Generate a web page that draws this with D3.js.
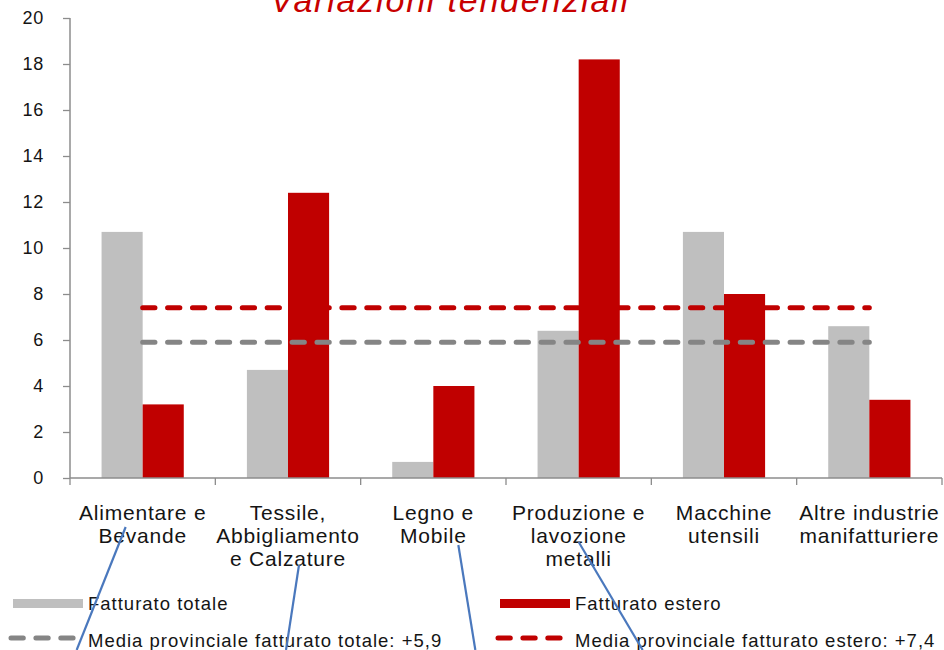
<html>
    <head>
        <meta charset="utf-8">
        <title>Variazioni tendenziali</title>
        <script src="https://cdnjs.cloudflare.com/ajax/libs/d3/7.8.5/d3.min.js"></script>
        <style>
            body { margin: 0; background: #fff; }
            svg text { font-family: "Liberation Sans", Arial, sans-serif; fill: #141414; }
            .tick line, .domain { stroke: #8c8c8c; }
        </style>
    </head>
    <body>
        <div id="main"></div>
        <script>
            // data
            var categories = [
                ["Alimentare e", "Bevande"],
                ["Tessile,", "Abbigliamento", "e Calzature"],
                ["Legno e", "Mobile"],
                ["Produzione e", "lavozione", "metalli"],
                ["Macchine", "utensili"],
                ["Altre industrie", "manifatturiere"]
            ];
            var fatturatoTotale = [10.7, 4.7, 0.7, 6.4, 10.7, 6.6];
            var fatturatoEstero = [3.2, 12.4, 4.0, 18.2, 8.0, 3.4];
            var mediaTotale = 5.9;
            var mediaEstero = 7.4;
            var yTicks = [0, 2, 4, 6, 8, 10, 12, 14, 16, 18, 20];
            var seriesNames = ["Fatturato totale", "Fatturato estero"];
            var lineNames = ["Media provinciale fatturato totale: +5,9", "Media provinciale fatturato estero: +7,4"];
            var title = "Variazioni tendenziali";

            var width = 944, height = 650;
            var grey = "#bfbfbf", red = "#c00000", greyLine = "#858585";
            var dash = "12.3 12.6";

            var keys = categories.map(function(c, i) { return "c" + i; });

            var svg = d3.select("#main").append("svg")
                .attr("width", width)
                .attr("height", height);

            var x = d3.scaleBand().domain(keys).range([70, 942]);
            var sub = d3.scaleBand().domain([0, 1]).range([0, x.bandwidth()]).paddingOuter(0.768);
            var y = d3.scaleLinear().domain([0, 20]).range([478, 18]);

            // title (cut off at top, as in the original)
            svg.append("text")
                .attr("x", 450)
                .attr("y", 12)
                .attr("text-anchor", "middle")
                .style("font-size", "34px")
                .style("font-style", "italic")
                .style("letter-spacing", "1.8px")
                .style("fill", "#c80000")
                .text(title);

            // y axis
            var yAxis = svg.append("g")
                .attr("transform", "translate(70,0)")
                .call(d3.axisLeft(y).tickValues(yTicks).tickSize(7).tickPadding(19));
            yAxis.selectAll("text")
                .style("font-size", "18px")
                .style("letter-spacing", "0.8px")
                .attr("font-family", null);
            yAxis.select(".domain").attr("d", "M0," + y(20) + "V" + y(0)).style("stroke-width", 1.5);
            yAxis.selectAll(".tick line").style("stroke-width", 1.3);

            // bars
            var rows = keys.map(function(k, i) {
                return { key: k, values: [fatturatoTotale[i], fatturatoEstero[i]] };
            });
            var group = svg.selectAll("g.cat")
                .data(rows)
                .enter().append("g")
                .attr("class", "cat")
                .attr("transform", function(d) { return "translate(" + x(d.key) + ",0)"; });

            group.selectAll("rect")
                .data(function(d) { return d.values; })
                .enter().append("rect")
                .attr("x", function(d, i) { return sub(i); })
                .attr("width", sub.bandwidth())
                .attr("y", function(d) { return y(d); })
                .attr("height", function(d) { return y(0) - y(d); })
                .attr("fill", function(d, i) { return i === 0 ? grey : red; });

            // x axis
            svg.append("line")
                .attr("x1", x.range()[0]).attr("x2", x.range()[1])
                .attr("y1", y(0)).attr("y2", y(0))
                .style("stroke", "#8c8c8c").style("stroke-width", 1.5);
            var edges = keys.map(function(k) { return x(k); }).concat([x.range()[1]]);
            svg.selectAll("line.xtick")
                .data(edges)
                .enter().append("line")
                .attr("class", "xtick")
                .attr("x1", function(d) { return d; }).attr("x2", function(d) { return d; })
                .attr("y1", y(0)).attr("y2", y(0) + 7)
                .style("stroke", "#8c8c8c").style("stroke-width", 1.3);

            // category labels
            var labels = svg.selectAll("text.cat")
                .data(categories)
                .enter().append("text")
                .attr("class", "cat")
                .attr("text-anchor", "middle")
                .style("font-size", "21px")
                .style("letter-spacing", "0.8px");
            labels.selectAll("tspan")
                .data(function(d, i) { return d.map(function(t) { return { t: t, i: i }; }); })
                .enter().append("tspan")
                .attr("x", function(d) { return x(keys[d.i]) + x.bandwidth() / 2; })
                .attr("y", function(d, j) { return 519.5 + j * 23.3; })
                .text(function(d) { return d.t; });

            // average lines
            var first = x(keys[0]) + x.bandwidth() / 2;
            var last = x(keys[keys.length - 1]) + x.bandwidth() / 2;
            [[mediaTotale, greyLine], [mediaEstero, red]].forEach(function(m) {
                svg.append("line")
                    .attr("x1", first).attr("x2", last)
                    .attr("y1", y(m[0])).attr("y2", y(m[0]))
                    .style("stroke", m[1])
                    .style("stroke-width", 5)
                    .style("stroke-linecap", "round")
                    .style("stroke-dasharray", dash);
            });

            // legend
            var legend = [
                { name: seriesNames[0], color: grey, type: "bar", x: 13, y: 610 },
                { name: seriesNames[1], color: red, type: "bar", x: 500, y: 610 },
                { name: lineNames[0], color: greyLine, type: "line", x: 13, y: 646.5 },
                { name: lineNames[1], color: red, type: "line", x: 500, y: 646.5 }
            ];
            legend.forEach(function(d) {
                if (d.type === "bar") {
                    svg.append("rect")
                        .attr("x", d.x).attr("y", 599)
                        .attr("width", 70).attr("height", 9)
                        .attr("fill", d.color);
                } else {
                    svg.append("line")
                        .attr("x1", d.x - 2).attr("x2", d.x + 62)
                        .attr("y1", 638).attr("y2", 638)
                        .style("stroke", d.color)
                        .style("stroke-width", 5)
                        .style("stroke-linecap", "round")
                        .style("stroke-dasharray", dash);
                }
                svg.append("text")
                    .attr("x", d.x + 75)
                    .attr("y", d.y)
                    .style("font-size", "18.5px")
                    .style("letter-spacing", "1px")
                    .text(d.name);
            });

            // blue pointer strokes drawn over the chart, relative to category centres
            var pointers = [
                { i: 0, dx1: -17, y1: 527, dx2: -66, y2: 650 },
                { i: 1, dx1: 11, y1: 565, dx2: -2, y2: 650 },
                { i: 2, dx1: 25, y1: 545, dx2: 42, y2: 650 },
                { i: 3, dx1: 0, y1: 542, dx2: 64, y2: 650 }
            ];
            svg.selectAll("line.pointer")
                .data(pointers)
                .enter().append("line")
                .attr("class", "pointer")
                .attr("x1", function(d) { return x(keys[d.i]) + x.bandwidth() / 2 + d.dx1; })
                .attr("x2", function(d) { return x(keys[d.i]) + x.bandwidth() / 2 + d.dx2; })
                .attr("y1", function(d) { return d.y1; })
                .attr("y2", function(d) { return d.y2; })
                .style("stroke", "#4a78bd")
                .style("stroke-width", 2.2);
        </script>
    </body>
</html>
